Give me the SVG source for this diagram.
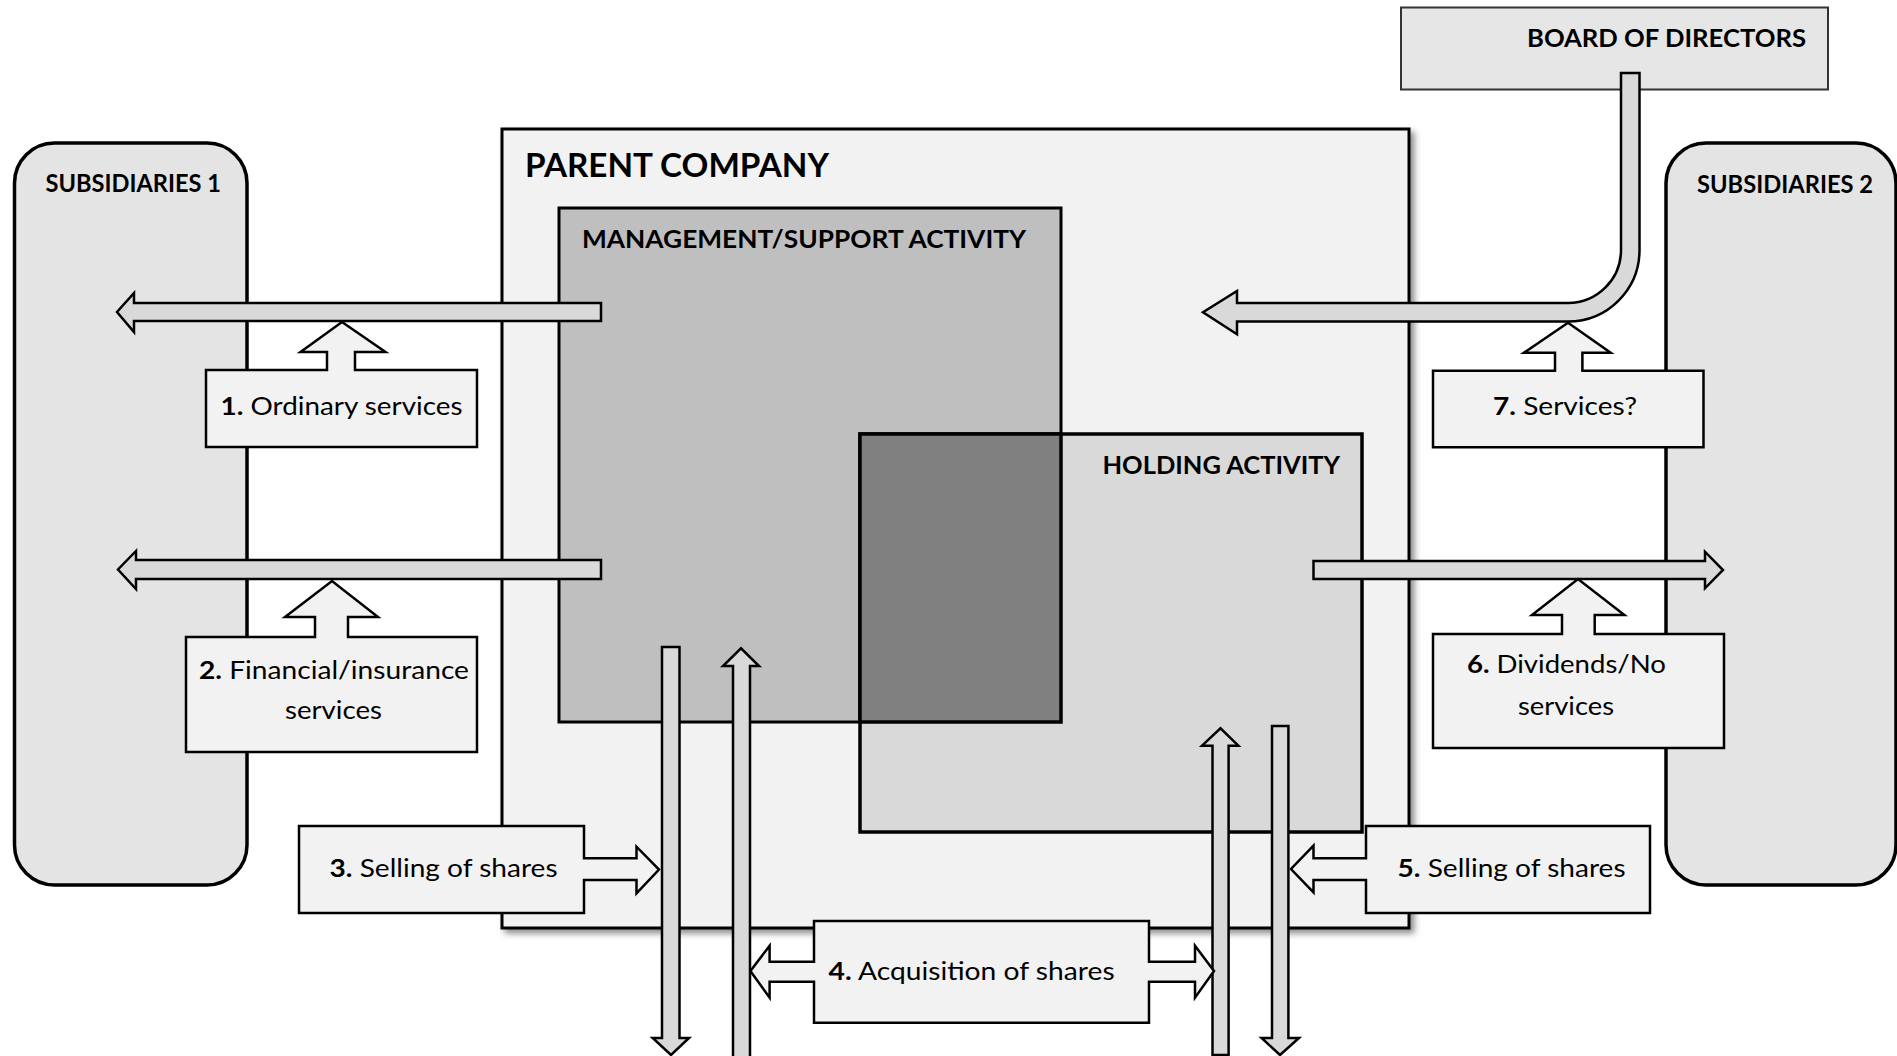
<svg xmlns="http://www.w3.org/2000/svg" width="1897" height="1056" viewBox="0 0 1897 1056">
<style>
  text { font-family: Lato, "Open Sans", "Liberation Sans", sans-serif; fill: #000; }
  .hdr { font-weight: bold; font-size: 24px; }
  .lbl { font-size: 25px; }
  .b { font-weight: bold; }
  .sub { fill: #e4e4e4; stroke: #000; stroke-width: 3.5; }
  .box { fill: #f2f2f2; stroke: #000; stroke-width: 2.5; stroke-linejoin: miter; }
  .arr { fill: #d9d9d9; stroke: #000; stroke-width: 2.5; stroke-linejoin: miter; }
</style>
<defs>
  <filter id="shadow" x="-5%" y="-5%" width="115%" height="115%">
    <feDropShadow dx="4" dy="4" stdDeviation="3" flood-color="#000" flood-opacity="0.45"/>
  </filter>
</defs>
<rect width="1897" height="1056" fill="#fff"/>

<g id="subsidiaries1">
  <rect class="sub" x="14.5" y="143" width="232.5" height="742" rx="40" ry="40"/>
  <text class="hdr" x="45.5" y="192" textLength="175.5" lengthAdjust="spacingAndGlyphs">SUBSIDIARIES 1</text>
</g>
<g id="subsidiaries2">
  <rect class="sub" x="1666" y="143" width="230" height="742" rx="40" ry="40"/>
  <text class="hdr" x="1697" y="193" textLength="176" lengthAdjust="spacingAndGlyphs">SUBSIDIARIES 2</text>
</g>
<g id="board">
  <rect x="1401" y="7.5" width="427" height="82" fill="#e6e6e6" stroke="#333" stroke-width="2"/>
  <text class="hdr" style="font-size:25px" x="1527" y="47" textLength="279" lengthAdjust="spacingAndGlyphs">BOARD OF DIRECTORS</text>
</g>
<g id="parent">
  <rect x="502" y="129" width="907" height="799" fill="#f2f2f2" stroke="#000" stroke-width="3" filter="url(#shadow)"/>
  <text class="hdr" style="font-size:33px" x="525" y="177" textLength="304" lengthAdjust="spacingAndGlyphs">PARENT COMPANY</text>
</g>
<g id="management">
  <rect x="559" y="208" width="502" height="514" fill="#bfbfbf" stroke="#000" stroke-width="3"/>
  <text class="hdr" style="font-size:25px" x="582" y="248" textLength="444" lengthAdjust="spacingAndGlyphs">MANAGEMENT/SUPPORT ACTIVITY</text>
</g>
<g id="holding">
  <rect x="860" y="434" width="502" height="398" fill="#d9d9d9" stroke="#000" stroke-width="3.5"/>
  <rect x="860" y="434" width="201" height="288" fill="#808080" stroke="#000" stroke-width="3.5"/>
  <text class="hdr" style="font-size:25px" x="1102.5" y="474" textLength="237.5" lengthAdjust="spacingAndGlyphs">HOLDING ACTIVITY</text>
</g>

<g id="connectors">
  <polygon class="arr" points="601,303 134,303 134,293 117,312 134,332 134,321 601,321"/>
  <polygon class="arr" points="601,560 136,560 136,551 118,569.5 136,589 136,579 601,579"/>
  <polygon class="arr" points="1313.5,561 1705,561 1705,551.7 1723,570 1705,588.3 1705,579 1313.5,579"/>
  <path class="arr" d="M1621,73 H1639.5 V250 A71.5,71.5 0 0 1 1568,321.5 H1237 V334.3 L1203,312.3 L1237,291 V303 H1568 A53,53 0 0 0 1621,250 Z"/>
  <polygon class="arr" points="662,647 679.5,647 679.5,1038 689,1038 671,1055 652.7,1038 662,1038"/>
  <polygon class="arr" points="733,1062 733,666 723,666 741,648.3 759,666 750,666 750,1062"/>
  <polygon class="arr" points="1212.5,1055 1212.5,745.7 1202,745.7 1220.5,728.3 1238.4,745.7 1228.6,745.7 1228.6,1055"/>
  <polygon class="arr" points="1272,726 1288.4,726 1288.4,1038 1299,1038 1280,1055 1261.6,1038 1272,1038"/>
</g>

<g id="label1">
  <path class="box" d="M206,370 H327 V352 H300.5 L342,322 L385.5,352 H355 V370 H477 V447 H206 Z"/>
  <text class="lbl" x="220.6" y="415" textLength="242" lengthAdjust="spacingAndGlyphs"><tspan class="b">1.</tspan> Ordinary services</text>
</g>
<g id="label2">
  <path class="box" d="M186,637 H315 V617 H285 L332,581 L378,617 H348 V637 H477 V752 H186 Z"/>
  <text class="lbl" x="199" y="679" textLength="270" lengthAdjust="spacingAndGlyphs"><tspan class="b">2.</tspan> Financial/insurance</text>
  <text class="lbl" x="285" y="719" textLength="97" lengthAdjust="spacingAndGlyphs">services</text>
</g>
<g id="label3">
  <path class="box" d="M299,826 H584 V858.3 H636.5 V846.7 L659,869.5 L636.5,893.3 V880 H584 V913 H299 Z"/>
  <text class="lbl" x="329.6" y="877" textLength="228" lengthAdjust="spacingAndGlyphs"><tspan class="b">3.</tspan> Selling of shares</text>
</g>
<g id="label4">
  <path class="box" d="M814,921 H1149 V961.7 H1195 V945.7 L1214,971 L1195,997.7 V981.7 H1149 V1022.7 H814 V981.7 H769.6 V997.7 L750.4,971 L769.6,945.7 V961.7 H814 Z"/>
  <text class="lbl" x="828.6" y="980" textLength="286" lengthAdjust="spacingAndGlyphs"><tspan class="b">4.</tspan> Acquisition of shares</text>
</g>
<g id="label5">
  <path class="box" d="M1366,826 H1650 V913 H1366 V880 H1313.5 V892.3 L1291,869 L1313.5,845.7 V858.3 H1366 Z"/>
  <text class="lbl" x="1397.6" y="877" textLength="228" lengthAdjust="spacingAndGlyphs"><tspan class="b">5.</tspan> Selling of shares</text>
</g>
<g id="label6">
  <path class="box" d="M1433,634 H1562 V615 H1532 L1578,579 L1624.4,615 H1594.7 V634 H1724 V748 H1433 Z"/>
  <text class="lbl" x="1467" y="673" textLength="199" lengthAdjust="spacingAndGlyphs"><tspan class="b">6.</tspan> Dividends/No</text>
  <text class="lbl" x="1518" y="715" textLength="96" lengthAdjust="spacingAndGlyphs">services</text>
</g>
<g id="label7">
  <path class="box" d="M1433,370.7 H1555 V352.7 H1524 L1568,322.7 L1610.7,352.7 H1582.4 V370.7 H1703.5 V447.3 H1433 Z"/>
  <text class="lbl" x="1493" y="415" textLength="144" lengthAdjust="spacingAndGlyphs"><tspan class="b">7.</tspan> Services?</text>
</g>
</svg>
